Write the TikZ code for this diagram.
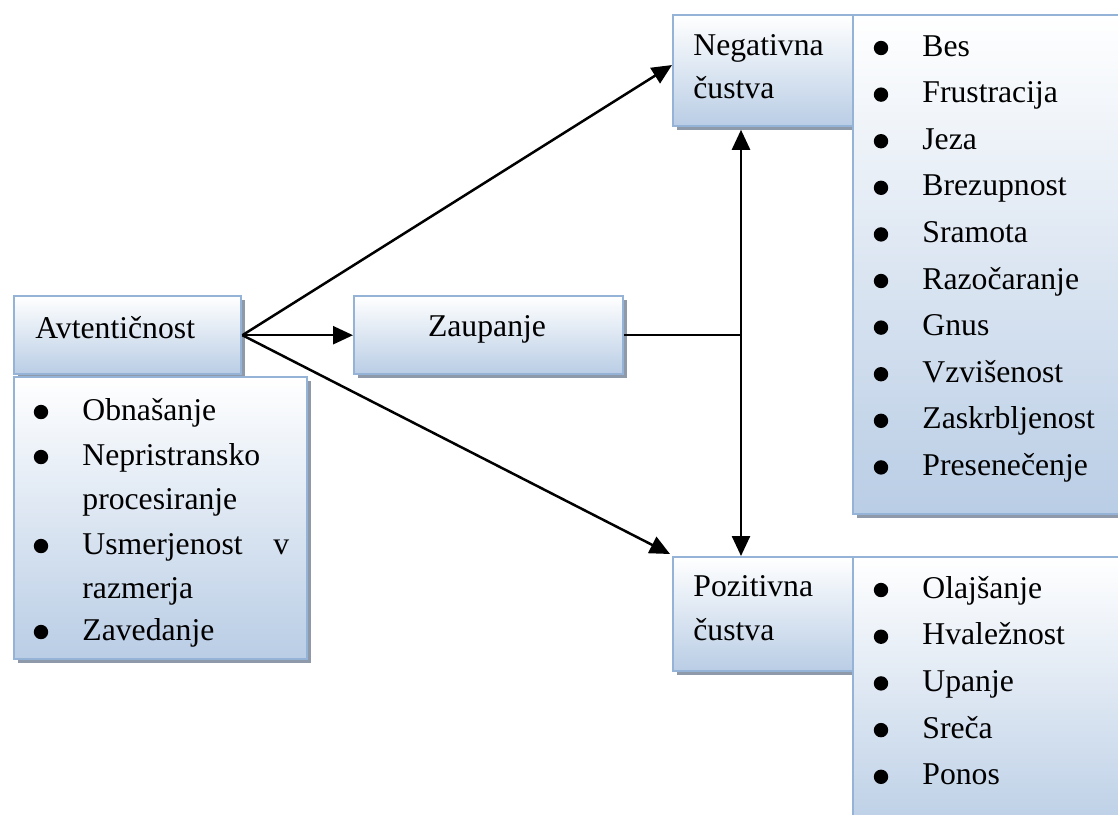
\documentclass[tikz,border=0pt]{standalone}
\usepackage{fontspec}
\setmainfont{Liberation Serif}
\usetikzlibrary{shadows,arrows.meta,calc}
\definecolor{bord}{RGB}{149,179,215}
\definecolor{boxlo}{RGB}{185,205,229}
\definecolor{shadowc}{RGB}{142,154,170}
\tikzset{
  box/.style={draw=bord, line width=1.2pt, top color=white, bottom color=boxlo,
    shading angle=0, rectangle, anchor=north west, inner sep=0pt,
    drop shadow={shadow xshift=1.8pt, shadow yshift=-1.8pt, fill=shadowc, opacity=1}},
  txt/.style={anchor=base west, inner sep=0pt, font=\fontsize{15.85}{19}\selectfont},
  ctxt/.style={anchor=base, inner sep=0pt, font=\fontsize{15.85}{19}\selectfont},
  arr/.style={line width=1.25pt, -{Triangle[length=10pt,width=9pt]}},
  darr/.style={line width=1.25pt, {Triangle[length=10pt,width=9pt]}-{Triangle[length=10pt,width=9pt]}},
  conn/.style={line width=1.25pt},
  bul/.style={fill=black}
}
\begin{document}
\begin{tikzpicture}[x=0.5pt,y=-0.5pt]
\clip (0,0) rectangle (1118,814);
% boxes
\node[box, minimum width=113.5pt, minimum height=39pt] (av) at (13,295) {};
\node[box, minimum width=146.5pt, minimum height=141pt] (avl) at (13,376) {};
\node[box, minimum width=134.5pt, minimum height=39pt] (zau) at (353,295) {};
\node[box, minimum width=90pt, minimum height=55.5pt] (neg) at (672,14) {};
\node[box, minimum width=139pt, minimum height=249.5pt] (negl) at (852,14) {};
\node[box, minimum width=90pt, minimum height=57pt] (poz) at (672,556) {};
\node[box, minimum width=139pt, minimum height=142pt] (pozl) at (852,556) {};
% header texts
\node[txt] (tav) at (35,338) {Avtentičnost};
\node[ctxt] (tzau) at (487,336) {Zaupanje};
\node[txt] (tneg1) at (693,55) {Negativna};
\node[txt] (tneg2) at (693,98) {čustva};
\node[txt] (tpoz1) at (693,596) {Pozitivna};
\node[txt] (tpoz2) at (693,640) {čustva};
% left list
\node[txt] (l1) at (82,420) {Obnašanje};
\node[txt] (l2) at (82,465) {Nepristransko};
\node[txt] (l3) at (82,509) {procesiranje};
\node[txt] (l4) at (82,554) {Usmerjenost};
\node[txt] (l4v) at (273,554) {v};
\node[txt] (l5) at (82,598) {razmerja};
\node[txt] (l6) at (82,640) {Zavedanje};
\foreach \y in {420,465,554,640} \fill[bul] (41,\y-8) circle[radius=3.6pt];
% negative list
\foreach \t [count=\i from 0] in {Bes,Frustracija,Jeza,Brezupnost,Sramota,Razočaranje,Gnus,Vzvišenost,Zaskrbljenost,Presenečenje}{
  \node[txt] (n\i) at (922,56+46.6*\i) {\t};
  \fill[bul] (881,48+46.6*\i) circle[radius=3.6pt];
}
% positive list
\foreach \t [count=\i from 0] in {Olajšanje,Hvaležnost,Upanje,Sreča,Ponos}{
  \node[txt] (p\i) at (922,598+46.7*\i) {\t};
  \fill[bul] (881,590+46.7*\i) circle[radius=3.6pt];
}
% connectors
\coordinate (j) at (zau.east -| 741,0);
\draw[arr] (av.east) -- ($(neg.north west)!0.45!(neg.south west)$);
\draw[arr] (av.east) -- (zau.west);
\draw[arr] (av.east) -- ([xshift=-1pt,yshift=1pt]poz.north west);
\draw[conn] (zau.east) -- (j);
\draw[darr] ([yshift=-1.2pt]neg.south -| j) -- (poz.north -| j);
\end{tikzpicture}
\end{document}
